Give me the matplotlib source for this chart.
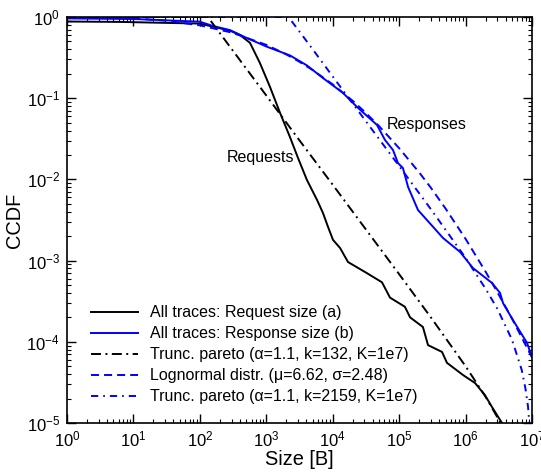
import numpy as np
import matplotlib
matplotlib.use('Agg')
import matplotlib.pyplot as plt

matplotlib.rcParams['font.family'] = 'Liberation Sans'
matplotlib.rcParams['mathtext.fontset'] = 'custom'
matplotlib.rcParams['mathtext.rm'] = 'Liberation Sans'
matplotlib.rcParams['mathtext.it'] = 'Liberation Sans:italic'
matplotlib.rcParams['lines.scale_dashes'] = False

# All traces: request size (a)
req_x = [1, 6.3, 50, 100, 158, 284, 402, 569, 804, 1140, 1610, 2280, 3000, 4100,
         5800, 7140, 8500, 10100, 12900, 17000, 32800, 55200, 72800, 122000,
         146000, 228000, 272000, 442000, 525000, 914000, 1.39e6, 1.96e6, 2.5e6, 3.53e6]
req_y = [0.88, 0.87, 0.84, 0.83, 0.76, 0.68, 0.60, 0.48, 0.27, 0.137, 0.066, 0.033,
         0.0184, 0.0098, 0.0056, 0.00385, 0.0026, 0.0018, 0.00143, 0.00096, 0.0007,
         0.00054, 0.00035, 0.00027, 0.0002, 0.000152, 9.1e-5, 7.5e-5, 5.5e-5,
         3.9e-5, 3.1e-5, 2.2e-5, 1.57e-5, 1e-5]

# All traces: response size (b)
resp_x = [1, 10, 100, 158, 284, 512, 1025, 2280, 4100, 7140, 14300, 23200, 46400,
          61200, 80800, 96000, 114000, 136000, 192000, 457000, 824000, 1.29e6,
          2.5e6, 3.3e6, 3.66e6, 5.17e6, 8.4e6, 1e7]
resp_y = [0.96, 0.945, 0.875, 0.775, 0.69, 0.55, 0.43, 0.336, 0.253, 0.177, 0.116,
          0.078, 0.0468, 0.0306, 0.023, 0.0159, 0.0138, 0.0081, 0.0042, 0.0019,
          0.00128, 0.00081, 0.00053, 0.0004, 0.0003, 0.000185, 9.7e-5, 6.5e-5]

# Trunc. pareto fit for requests (k=132)
rpar_x = [1, 132, 300, 1000, 3000, 1e4, 3e4, 1e5, 3e5, 1e6, 2e6, 3e6, 3.4e6]
rpar_y = [1, 1, 0.405, 0.108, 0.032, 0.0086, 0.00256, 0.00068, 0.0002, 5.0e-5,
          2.1e-5, 1.18e-5, 9.8e-6]

# Lognormal fit for responses
logn_x = [1, 10, 30, 100, 300, 1000, 2000, 3000, 5000, 1e4, 2e4, 3e4, 5e4, 1e5,
          2e5, 3e5, 5e5, 1e6, 2e6, 3e6, 5e6, 1e7]
logn_y = [0.996, 0.96, 0.903, 0.79, 0.644, 0.454, 0.346, 0.288, 0.222, 0.148,
          0.0928, 0.0685, 0.0452, 0.0242, 0.0122, 0.0079, 0.00437, 0.00185,
          0.00073, 0.00041, 0.000193, 6.4e-5]

# Trunc. pareto fit for responses (k=2159)
spar_x = [1, 2159, 3000, 5000, 1e4, 3e4, 1e5, 3e5, 1e6, 2e6, 3e6, 5e6, 7e6, 8e6,
          8.7e6, 9.1e6]
spar_y = [1, 1, 0.70, 0.40, 0.185, 0.055, 0.0146, 0.0043, 0.00108, 0.00045,
          0.000256, 0.000106, 4.5e-5, 2.6e-5, 1.6e-5, 1e-5]

fig = plt.figure(figsize=(5.41, 4.75), dpi=100)
ax = fig.add_axes([0.1238, 0.1095, 0.8596, 0.8547])

lw = 1.4
ax.plot(req_x, req_y, color='black', lw=lw, label='All traces: Request size (a)')
ax.plot(resp_x, resp_y, color='#0000ff', lw=lw, label='All traces: Response size (b)')
ax.plot(rpar_x, rpar_y, color='black', lw=lw, linestyle=(0, (7.2, 3.2, 1.4, 3.2)),
        label='Trunc. pareto (\u03b1=1.1, k=132, K=1e7)')
ax.plot(logn_x, logn_y, color='#0000ff', lw=lw, linestyle=(0, (5.8, 3.6)),
        label='Lognormal distr. (\u03bc=6.62, \u03c3=2.48)')
ax.plot(spar_x, spar_y, color='#0000ff', lw=lw, linestyle=(0, (5.2, 3.6, 1.2, 3.6)),
        label='Trunc. pareto (\u03b1=1.1, k=2159, K=1e7)')

ax.set_xscale('log')
ax.set_yscale('log')
ax.set_xlim(1, 1e7)
ax.set_ylim(1e-5, 1)

ax.tick_params(which='both', direction='in', top=True, right=True, labelsize=12)
ax.tick_params(which='major', length=6.5, width=1, pad=5)
ax.tick_params(which='minor', length=3, width=0.8)
ax.xaxis.set_major_locator(matplotlib.ticker.LogLocator(base=10, numticks=10))
ax.xaxis.set_minor_locator(matplotlib.ticker.LogLocator(base=10, subs=np.arange(2, 10), numticks=20))
ax.yaxis.set_minor_locator(matplotlib.ticker.LogLocator(base=10, subs=np.arange(2, 10), numticks=20))
ax.xaxis.set_minor_formatter(matplotlib.ticker.NullFormatter())
ax.yaxis.set_minor_formatter(matplotlib.ticker.NullFormatter())
for pos in ['top', 'bottom', 'right', 'left']:
    ax.spines[pos].set_linewidth(1.2)

ax.set_xlabel('Size [B]', fontsize=14.4, labelpad=0)
ax.set_ylabel('CCDF', fontsize=14.4, labelpad=2)

ax.text(256, 0.0184, 'Requests', fontsize=11.5, va='center', ha='left')
ax.text(64000, 0.0468, 'Responses', fontsize=11.5, va='center', ha='left')

ax.legend(loc='lower left', bbox_to_anchor=(0.037, 0.03), frameon=False, fontsize=11.5,
          handlelength=3.0, handletextpad=0.7, labelspacing=0.38, borderaxespad=0)

fig.savefig('out.png', dpi=100)
